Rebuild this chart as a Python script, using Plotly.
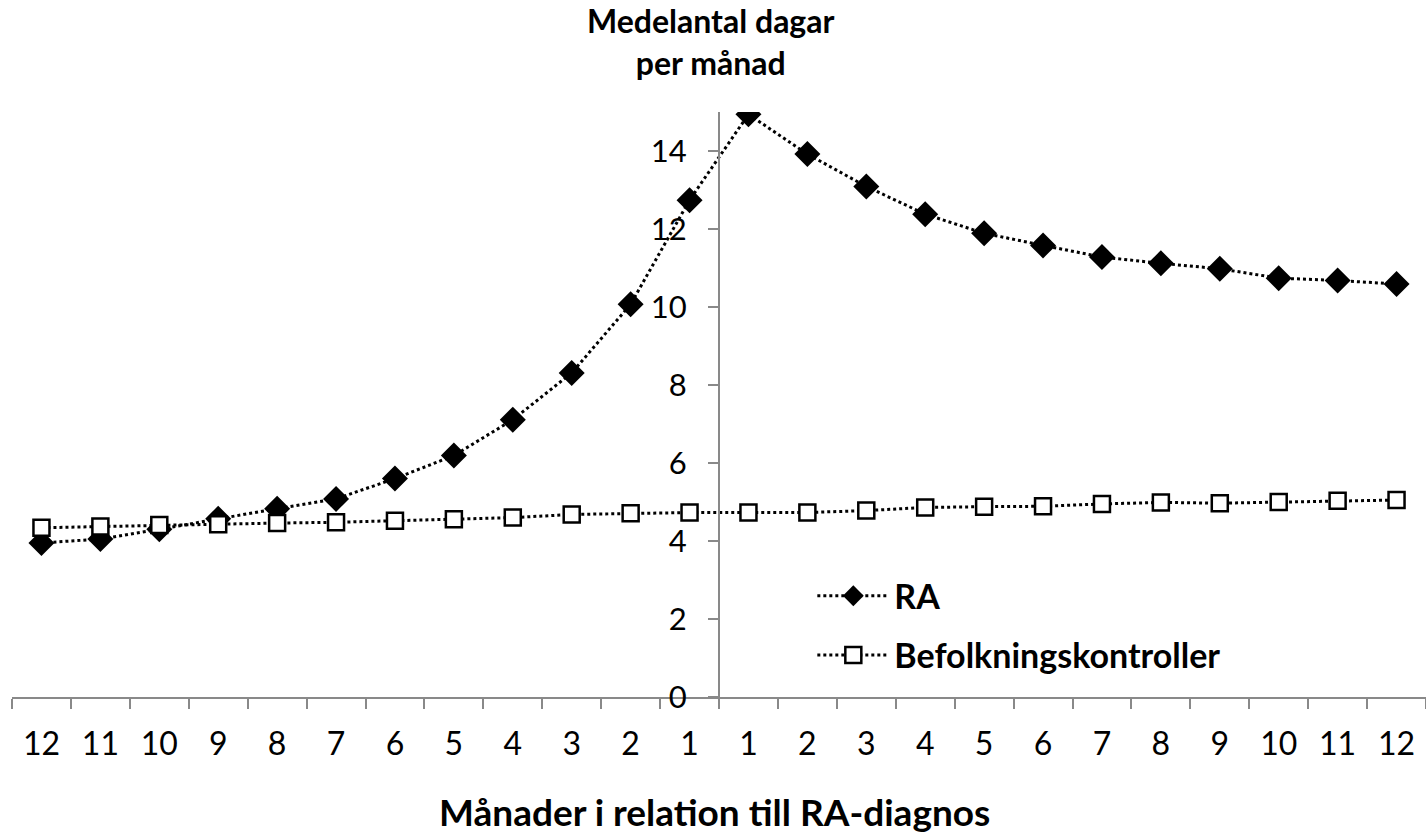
import plotly.graph_objects as go

# Categories: months before (left) and after (right) RA diagnosis
cat_keys = [f"f{m}" for m in range(12, 0, -1)] + [f"e{m}" for m in range(1, 13)]
tick_labels = [str(m) for m in range(12, 0, -1)] + [str(m) for m in range(1, 13)]

ra_values = [3.95, 4.05, 4.3, 4.57, 4.83, 5.08, 5.6, 6.19, 7.11, 8.31, 10.07, 12.74,
             14.94, 13.92, 13.09, 12.38, 11.89, 11.58, 11.28, 11.12, 10.98, 10.74, 10.68, 10.59]
ctrl_values = [4.34, 4.37, 4.41, 4.43, 4.46, 4.48, 4.52, 4.56, 4.6, 4.68, 4.71, 4.73,
               4.73, 4.73, 4.78, 4.86, 4.88, 4.89, 4.95, 4.99, 4.97, 5.0, 5.03, 5.05]
y_ticks = [0, 2, 4, 6, 8, 10, 12, 14]

FONT = "Lato"
AXIS_GRAY = "#898989"

fig = go.Figure()
fig.add_trace(go.Scatter(
    x=cat_keys, y=ra_values, name="RA", mode="lines+markers",
    line=dict(color="black", width=3, dash="dot"),
    marker=dict(symbol="diamond", size=20, color="black"),
    legendgroup="a",
))
fig.add_trace(go.Scatter(
    x=cat_keys, y=ctrl_values, name="Befolkningskontroller", mode="lines+markers",
    line=dict(color="black", width=3, dash="dot"),
    marker=dict(symbol="square", size=16, color="white", line=dict(color="black", width=2.5)),
    legendgroup="b",
))

fig.update_layout(
    width=1426, height=838,
    margin=dict(l=12, r=0, t=112, b=141),
    paper_bgcolor="white", plot_bgcolor="white",
    font=dict(family=FONT, color="black"),
    showlegend=True,
    legend=dict(
        x=0.566, y=0.222, xanchor="left", yanchor="top",
        font=dict(family=FONT, size=34, color="black", weight="bold"),
        bgcolor="rgba(0,0,0,0)", itemwidth=72, tracegroupgap=12,
        traceorder="grouped",
    ),
    xaxis=dict(
        type="category", categoryorder="array", categoryarray=cat_keys,
        tickvals=cat_keys, ticktext=tick_labels, tickson="boundaries",
        range=[-0.5, 23.5],
        showline=True, linecolor=AXIS_GRAY, linewidth=2,
        ticks="outside", ticklen=10, tickwidth=1.5, tickcolor=AXIS_GRAY,
        tickfont=dict(family=FONT, size=32, color="black"),
        ticklabelstandoff=18,
        showgrid=False, zeroline=False,
    ),
    yaxis=dict(
        range=[0, 15], anchor="free", position=0.5,
        tickvals=y_ticks, ticktext=[str(v) for v in y_ticks],
        showline=True, linecolor=AXIS_GRAY, linewidth=2,
        ticks="outside", ticklen=10, tickwidth=1.5, tickcolor=AXIS_GRAY,
        tickfont=dict(family=FONT, size=31, color="black"),
        ticklabelstandoff=15,
        showgrid=False, zeroline=False,
    ),
    annotations=[
        dict(text="Medelantal dagar<br>per månad", xref="paper", yref="paper",
             x=0.494, y=1.12, xanchor="center", yanchor="middle", showarrow=False,
             font=dict(family=FONT, size=32, color="black", weight="bold")),
        dict(text="Månader i relation till RA-diagnos", xref="paper", yref="paper",
             x=0.497, y=-0.196, xanchor="center", yanchor="middle", showarrow=False,
             font=dict(family=FONT, size=37, color="black", weight="bold")),
    ],
)

fig.write_html(
    "out.html",
    config={"displayModeBar": False},
    post_script="document.body.style.margin='0';document.body.style.overflow='hidden';",
)
